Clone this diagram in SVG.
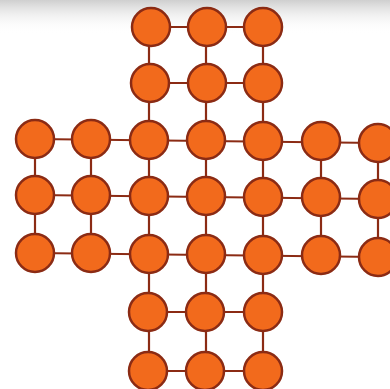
<svg xmlns="http://www.w3.org/2000/svg" width="390" height="389" viewBox="0 0 390 389">
<defs>
<linearGradient id="topShade" x1="0" y1="0" x2="0" y2="1">
<stop offset="0" stop-color="#cfcfcf"/>
<stop offset="1" stop-color="#ffffff" stop-opacity="0"/>
</linearGradient>
</defs>
<style>
.peg{fill:#F26A1C;stroke:#8B2B14;stroke-width:2.5}
.con{stroke:#8B2B14;stroke-width:2.2;fill:none}
</style>
<rect width="390" height="389" fill="#ffffff"/>
<rect width="390" height="34" fill="url(#topShade)"/>
<g id="connectors" class="con">
<line x1="149" y1="27" x2="263" y2="27"/>
<line x1="149" y1="83" x2="263" y2="83"/>
<line x1="35" y1="139" x2="378" y2="143"/>
<line x1="35" y1="195" x2="378" y2="199"/>
<line x1="35" y1="253" x2="378" y2="257"/>
<line x1="149" y1="312" x2="263" y2="312"/>
<line x1="149" y1="371" x2="263" y2="371"/>
<line x1="35" y1="139" x2="35" y2="253"/>
<line x1="91" y1="139" x2="91" y2="253"/>
<line x1="149" y1="27" x2="149" y2="371"/>
<line x1="206" y1="27" x2="206" y2="371"/>
<line x1="263" y1="27" x2="263" y2="371"/>
<line x1="321" y1="141" x2="321" y2="255"/>
<line x1="378" y1="143" x2="378" y2="257"/>
</g>
<g id="n-0-2"><circle class="peg" cx="151" cy="27" r="19"/></g>
<g id="n-0-3"><circle class="peg" cx="207" cy="27" r="19"/></g>
<g id="n-0-4"><circle class="peg" cx="263" cy="27" r="19"/></g>
<g id="n-1-2"><circle class="peg" cx="150" cy="83" r="19"/></g>
<g id="n-1-3"><circle class="peg" cx="207" cy="83" r="19"/></g>
<g id="n-1-4"><circle class="peg" cx="263" cy="83" r="19"/></g>
<g id="n-2-0"><circle class="peg" cx="35" cy="139" r="19"/></g>
<g id="n-2-1"><circle class="peg" cx="91" cy="139" r="19"/></g>
<g id="n-2-2"><circle class="peg" cx="149" cy="140" r="19"/></g>
<g id="n-2-3"><circle class="peg" cx="206" cy="140" r="19"/></g>
<g id="n-2-4"><circle class="peg" cx="263" cy="141" r="19"/></g>
<g id="n-2-5"><circle class="peg" cx="321" cy="141" r="19"/></g>
<g id="n-2-6"><circle class="peg" cx="378" cy="143" r="19"/></g>
<g id="n-3-0"><circle class="peg" cx="35" cy="195" r="19"/></g>
<g id="n-3-1"><circle class="peg" cx="91" cy="195" r="19"/></g>
<g id="n-3-2"><circle class="peg" cx="149" cy="196" r="19"/></g>
<g id="n-3-3"><circle class="peg" cx="206" cy="196" r="19"/></g>
<g id="n-3-4"><circle class="peg" cx="263" cy="197" r="19"/></g>
<g id="n-3-5"><circle class="peg" cx="321" cy="197" r="19"/></g>
<g id="n-3-6"><circle class="peg" cx="378" cy="199" r="19"/></g>
<g id="n-4-0"><circle class="peg" cx="35" cy="253" r="19"/></g>
<g id="n-4-1"><circle class="peg" cx="91" cy="253" r="19"/></g>
<g id="n-4-2"><circle class="peg" cx="149" cy="254" r="19"/></g>
<g id="n-4-3"><circle class="peg" cx="206" cy="254" r="19"/></g>
<g id="n-4-4"><circle class="peg" cx="263" cy="255" r="19"/></g>
<g id="n-4-5"><circle class="peg" cx="321" cy="255" r="19"/></g>
<g id="n-4-6"><circle class="peg" cx="378" cy="257" r="19"/></g>
<g id="n-5-2"><circle class="peg" cx="148" cy="312" r="19"/></g>
<g id="n-5-3"><circle class="peg" cx="205" cy="312" r="19"/></g>
<g id="n-5-4"><circle class="peg" cx="263" cy="312" r="19"/></g>
<g id="n-6-2"><circle class="peg" cx="148" cy="371" r="19"/></g>
<g id="n-6-3"><circle class="peg" cx="205" cy="371" r="19"/></g>
<g id="n-6-4"><circle class="peg" cx="263" cy="371" r="19"/></g>
</svg>
